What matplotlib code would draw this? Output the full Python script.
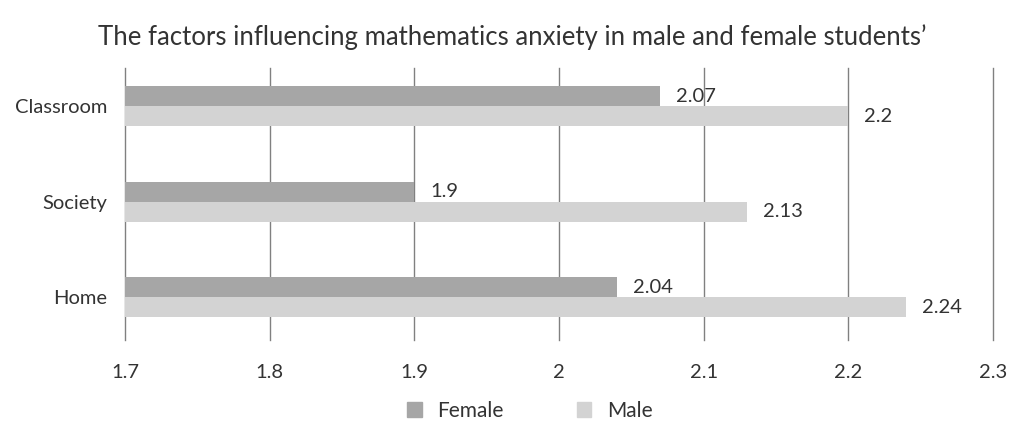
import numpy as np
import matplotlib.pyplot as plt
from matplotlib.patches import Patch

plt.rcParams['font.family'] = ['Lato', 'DejaVu Sans']

# data
categories = ['Home', 'Society', 'Classroom']
female = [2.04, 1.90, 2.07]
male = [2.24, 2.13, 2.20]
xticks = [1.7, 1.8, 1.9, 2.0, 2.1, 2.2, 2.3]
xticklabels = ['1.7', '1.8', '1.9', '2', '2.1', '2.2', '2.3']

c_female = '#a6a6a6'
c_male = '#d3d3d3'
txt = '#333333'

fig = plt.figure(figsize=(10.09, 4.25), dpi=100)
ax = fig.add_axes([0.124, 0.2, 0.86, 0.64])

y = np.arange(len(categories))
h = 0.21
left = 1.7
ax.barh(y + h / 2, np.array(female) - left, h, left=left, color=c_female, zorder=2)
ax.barh(y - h / 2, np.array(male) - left, h, left=left, color=c_male, zorder=2)

for yi, v in zip(y, female):
    ax.text(v + 0.011, yi + h / 2, f'{v:g}', va='center', ha='left', fontsize=14.5, color=txt)
for yi, v in zip(y, male):
    ax.text(v + 0.011, yi - h / 2, f'{v:g}', va='center', ha='left', fontsize=14.5, color=txt)

ax.set_xlim(1.7, 2.3)
ax.set_ylim(-0.45, 2.4)
ax.set_xticks(xticks)
ax.set_xticklabels(xticklabels, fontsize=14.5, color=txt)
ax.set_yticks(y)
ax.set_yticklabels(categories, fontsize=14.5, color=txt)
ax.tick_params(axis='both', length=0)
ax.tick_params(axis='x', pad=17)
ax.tick_params(axis='y', pad=13)
ax.grid(axis='x', color='#808080', linewidth=1, zorder=1)
for gl in ax.get_xgridlines():
    gl.set_clip_on(False)
for s in ax.spines.values():
    s.set_visible(False)

fig.suptitle("The factors influencing mathematics anxiety in male and female students\u2019",
             x=0.508, y=0.943, fontsize=18.5, color=txt)

handles = [Patch(color=c_female, label='Female'), Patch(color=c_male, label='Male')]
fig.legend(handles=handles, loc='center', bbox_to_anchor=(0.525, 0.033), ncol=2,
           frameon=False, fontsize=15, handlelength=0.7, handleheight=0.7,
           columnspacing=3.5, handletextpad=0.75, labelcolor=txt)

fig.savefig('out.png', dpi=100)
